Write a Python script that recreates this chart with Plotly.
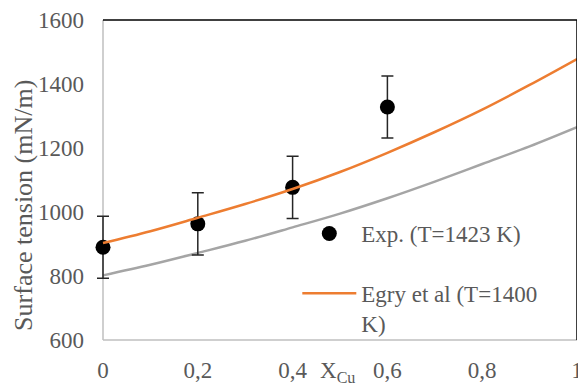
import plotly.graph_objects as go

# Experimental data
x_exp = [0, 0.2, 0.4, 0.6]
y_exp = [890, 963, 1077, 1328]
err_exp = [97, 97, 97, 97]

# Model curves
x_model = [0, 0.1, 0.2, 0.3, 0.4, 0.5, 0.6, 0.7, 0.8, 0.9, 1.0]
y_egry = [903, 940, 982, 1025, 1072, 1125, 1185, 1250, 1320, 1397, 1478]
y_gray = [802, 835, 872, 910, 952, 995, 1043, 1095, 1150, 1205, 1265]

x_ticks = [0, 0.2, 0.4, 0.6, 0.8, 1.0]
x_ticktext = ["0", "0,2", "0,4", "0,6", "0,8", "1"]
y_ticks = [600, 800, 1000, 1200, 1400, 1600]

FONT = "Liberation Serif, Times New Roman, serif"
TXT = "#595959"
PAD = 12 / 474  # small room left of x=0 so the first error bar cap is not clipped

fig = go.Figure()
fig.add_trace(go.Scatter(
    x=x_model, y=y_gray, mode="lines", line=dict(color="#A5A5A5", width=2.5, shape="spline"),
    showlegend=False, hoverinfo="skip"))
fig.add_trace(go.Scatter(
    x=x_exp, y=y_exp, mode="markers", name="Exp. (T=1423 K)",
    marker=dict(color="black", size=15), cliponaxis=False,
    error_y=dict(type="data", array=err_exp, visible=True, color="#262626", thickness=1.5, width=6),
    legendgroup="a"))
fig.add_trace(go.Scatter(
    x=x_model, y=y_egry, mode="lines", name="Egry et al (T=1400<br>K)",
    line=dict(color="#ED7D31", width=2.5, shape="spline"), legendgroup="b"))

fig.update_layout(
    width=578, height=387,
    margin=dict(l=91, r=1, t=20, b=47),
    paper_bgcolor="white", plot_bgcolor="white",
    font=dict(family=FONT, size=23, color=TXT),
    legend=dict(x=0.4245, y=0.40, xanchor="left", yanchor="top", bgcolor="rgba(0,0,0,0)",
                itemwidth=54, valign="top", tracegroupgap=27, traceorder="grouped",
                font=dict(family=FONT, size=23, color=TXT)),
    xaxis=dict(range=[-PAD, 1], tickvals=x_ticks, ticktext=x_ticktext, showgrid=False, zeroline=False,
               showline=False, ticks="", automargin=False,
               ticklabelstandoff=14, ticklabeloverflow="allow"),
    yaxis=dict(range=[600, 1600], tickvals=y_ticks, showgrid=False, zeroline=False,
               showline=False, ticks="", automargin=False,
               ticklabelstandoff=6),
    shapes=[
        dict(type="line", xref="x", yref="paper", x0=0, x1=0, y0=0, y1=1, line=dict(color="#BFBFBF", width=1.5), layer="below"),
        dict(type="line", xref="x", yref="paper", x0=0, x1=1, y0=0, y1=0, line=dict(color="#BFBFBF", width=1.5), layer="below"),
        dict(type="line", xref="x", yref="paper", x0=0, x1=1, y0=1, y1=1, line=dict(color="black", width=1.5)),
        dict(type="line", xref="x", yref="paper", x0=1, x1=1, y0=0, y1=1, line=dict(color="black", width=1.5)),
    ],
    annotations=[
        dict(text="X<sub>Cu</sub>", xref="x", yref="paper", x=0.494, y=-0.1, xanchor="center",
             yanchor="middle", showarrow=False, font=dict(family=FONT, size=23, color=TXT)),
        dict(text="Surface tension (mN/m)", xref="paper", yref="paper", x=-0.138, y=0.422,
             xanchor="center", yanchor="middle", textangle=-90, showarrow=False,
             font=dict(family=FONT, size=26, color=TXT)),
    ],
)

fig.write_html("out.html")
